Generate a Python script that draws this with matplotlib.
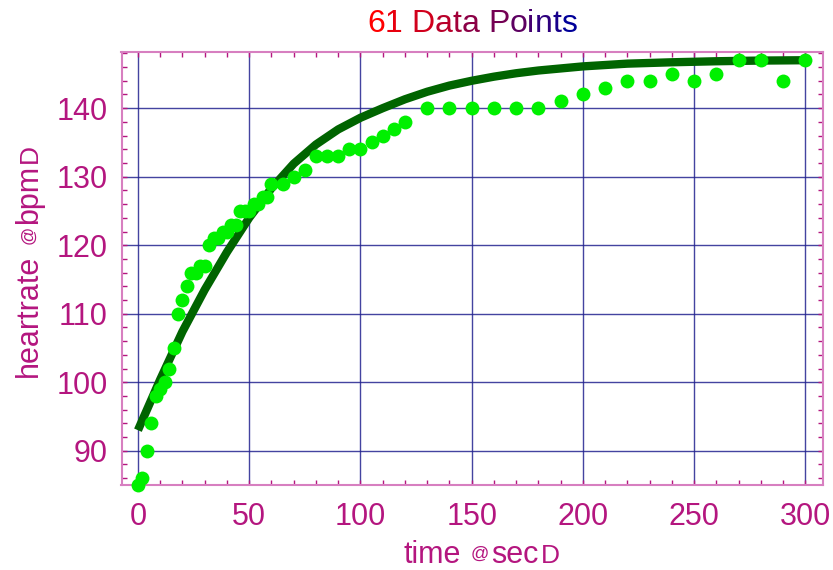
import matplotlib
matplotlib.use("Agg")
import matplotlib.pyplot as plt
from matplotlib.ticker import MultipleLocator
from matplotlib.transforms import IdentityTransform

plt.rcParams["font.family"] = ["Liberation Sans", "DejaVu Sans"]

# ---- data ----
time_sec = [0, 2, 4, 6, 8, 10, 12, 14, 16, 18, 20, 22, 24, 26, 28, 30,
            32, 34, 36, 38, 40, 42, 44, 46, 48, 50, 52, 54, 56, 58, 60,
            65, 70, 75, 80, 85, 90, 95, 100, 105, 110, 115, 120,
            130, 140, 150, 160, 170, 180, 190, 200, 210, 220, 230, 240,
            250, 260, 270, 280, 290, 300]
heartrate = [85, 86, 90, 94, 98, 99, 100, 102, 105, 110, 112, 114, 116, 116, 117, 117,
             120, 121, 121, 122, 122, 123, 123, 125, 125, 125, 126, 126, 127, 127, 129,
             129, 130, 131, 133, 133, 133, 134, 134, 135, 136, 137, 138,
             140, 140, 140, 140, 140, 140, 141, 142, 143, 144, 144, 145,
             144, 145, 147, 147, 144, 147]

# fitted curve
fit_t = [0, 10, 20, 30, 40, 50, 60, 70, 80, 90, 100, 110, 120, 130, 140, 150,
         160, 170, 180, 190, 200, 220, 240, 260, 280, 300]
fit_y = [93.0, 100.4, 107.4, 113.5, 119.0, 124.0, 128.3, 131.9, 134.7, 136.9,
         138.6, 140.0, 141.3, 142.4, 143.3, 144.0, 144.6, 145.1, 145.5, 145.8,
         146.1, 146.5, 146.7, 146.85, 146.95, 147.0]

TITLE = "61 Data Points"
LABEL_COLOR = "#b4167f"
SPINE_COLOR = "#d77fc0"
GRID_COLOR = "#23238f"


def draw_pieces(fig, x0, y0, pieces, vertical=False):
    # pieces: (text, fontsize, offset along the line, offset across the line)
    for s, size, along, across in pieces:
        if vertical:
            fig.text(x0 - across, y0 + along, s, rotation=90, rotation_mode="anchor",
                     ha="left", va="baseline", fontsize=size, color=LABEL_COLOR,
                     transform=IdentityTransform())
        else:
            fig.text(x0 + along, y0 + across, s, ha="left", va="baseline",
                     fontsize=size, color=LABEL_COLOR, transform=IdentityTransform())


def draw_title(fig, x0, y0, text, size):
    r = fig.canvas.get_renderer()
    probe = fig.text(0, 0, "", fontsize=size, transform=IdentityTransform())

    def width(s):
        probe.set_text(s)
        return probe.get_window_extent(r).width

    chars = [i for i, c in enumerate(text) if c != " "]
    n = len(chars)
    for k, i in enumerate(chars):
        f = k / (n - 1)
        col = (1.0 - f, 0.0, 0.6 * f)
        x = x0 + width(text[:i + 1]) - width(text[i])
        fig.text(x, y0, text[i], fontsize=size, color=col, ha="left", va="baseline",
                 transform=IdentityTransform())
    probe.remove()


def main():
    fig = plt.figure(figsize=(8.33, 5.70), dpi=100)
    ax = fig.add_axes([121.5 / 833, 85 / 570, (823 - 121.5) / 833, (485 - 52) / 570])

    ax.plot(fit_t, fit_y, color="#006400", lw=6, solid_capstyle="butt", zorder=3)
    ax.plot(time_sec, heartrate, "o", color="#00f000", ms=10, mec="none", zorder=4,
            clip_on=False)

    ax.set_xlim(-7.4, 307.9)
    ax.set_ylim(85.0, 148.2)
    ax.xaxis.set_major_locator(MultipleLocator(50))
    ax.xaxis.set_minor_locator(MultipleLocator(10))
    ax.yaxis.set_major_locator(MultipleLocator(10))
    ax.yaxis.set_minor_locator(MultipleLocator(2))
    ax.set_yticks([90, 100, 110, 120, 130, 140])

    ax.grid(True, which="major", color=GRID_COLOR, lw=1.0, alpha=0.85, zorder=1)
    ax.set_axisbelow(True)
    for sp in ax.spines.values():
        sp.set_color(SPINE_COLOR)
        sp.set_linewidth(1.5)

    ax.tick_params(which="both", direction="in", top=True, right=True,
                   color=LABEL_COLOR, width=1, length=3.5)
    ax.tick_params(axis="x", labelsize=22, labelcolor=LABEL_COLOR, pad=12)
    ax.tick_params(axis="y", labelsize=22, labelcolor=LABEL_COLOR, pad=10)

    # axis labels with the small "@" and bracket glyph as in the original
    draw_pieces(fig, 403, 7, [("time", 22, 0, 0), ("@", 13, 68, 4),
                              ("sec", 22, 88, 0), ("D", 19, 138, 0)])
    draw_pieces(fig, 37, 193, [("heartrate", 22, 0, 0), ("@", 13, 133, 4),
                               ("bpm", 22, 153, 0), ("D", 19, 214, 0)], vertical=True)

    draw_title(fig, 367, 538, TITLE, 23)

    fig.savefig("out.png", dpi=100)


if __name__ == "__main__":
    main()
